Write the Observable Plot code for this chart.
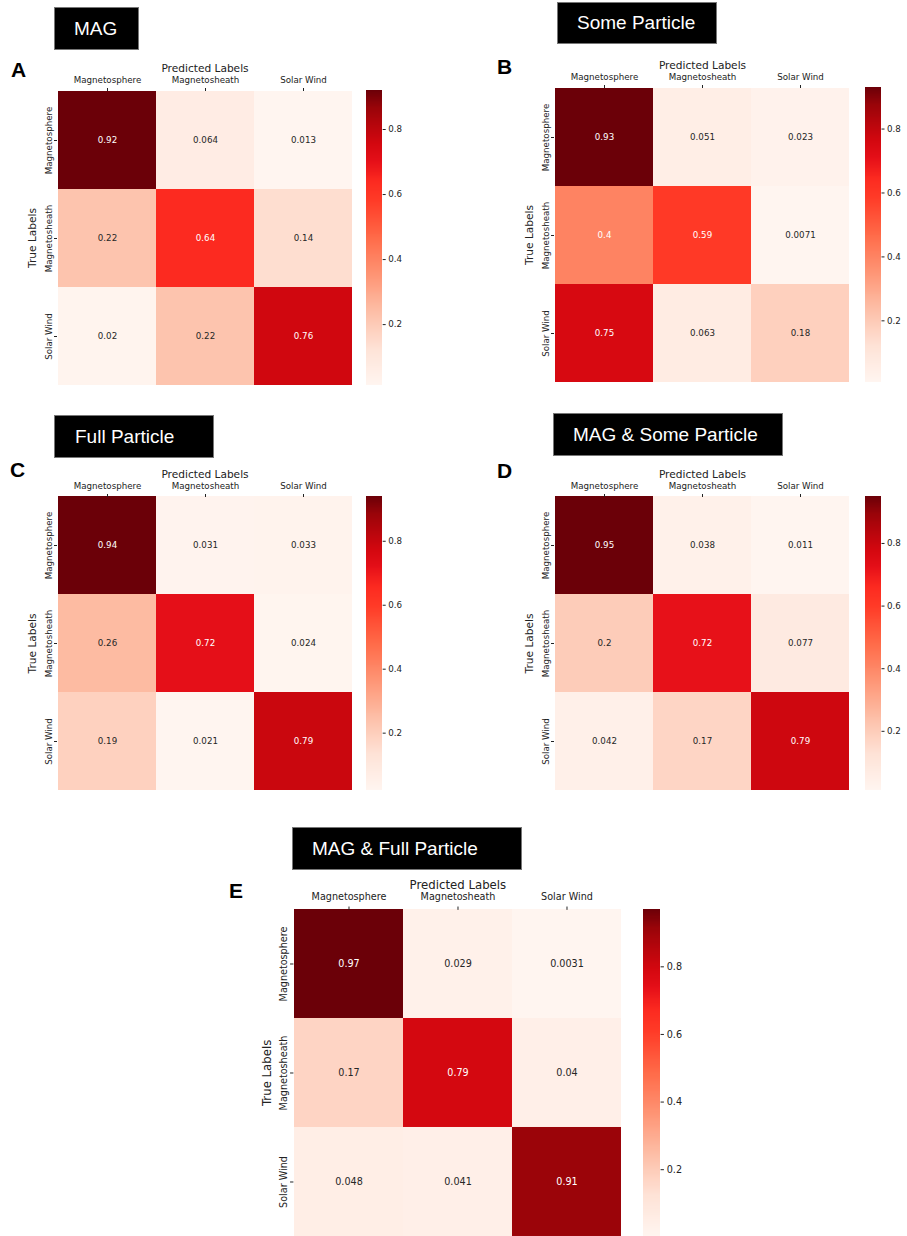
<!DOCTYPE html>
<html><head><meta charset="utf-8">
<script src="https://cdn.jsdelivr.net/npm/d3@7"></script>
<script src="https://cdn.jsdelivr.net/npm/@observablehq/plot@0.6"></script>
<style>
body{margin:0;background:#fff;}
#root{position:relative;width:907px;height:1236px;overflow:hidden;background:#fff;}
.box{position:absolute;background:#000;border:1px solid #777;box-sizing:border-box;color:#fff;font-family:"Liberation Sans",Arial,sans-serif;font-size:19px;display:flex;align-items:center;white-space:nowrap;}
.letter{position:absolute;font-family:"Liberation Sans",Arial,sans-serif;font-weight:bold;font-size:21px;line-height:1;color:#000;}
.plot{position:absolute;}
</style></head><body><div id="root"></div><script>
// ---- data ----
const classes = ["Magnetosphere", "Magnetosheath", "Solar Wind"];
const xLabel = "Predicted Labels";
const yLabel = "True Labels";
const magValues          = [[0.92, 0.064, 0.013], [0.22, 0.64, 0.14], [0.02, 0.22, 0.76]];
const someParticleValues = [[0.93, 0.051, 0.023], [0.4, 0.59, 0.0071], [0.75, 0.063, 0.18]];
const fullParticleValues = [[0.94, 0.031, 0.033], [0.26, 0.72, 0.024], [0.19, 0.021, 0.79]];
const magSomeValues      = [[0.95, 0.038, 0.011], [0.2, 0.72, 0.077], [0.042, 0.17, 0.79]];
const magFullValues      = [[0.97, 0.029, 0.0031], [0.17, 0.79, 0.04], [0.048, 0.041, 0.91]];
const panelTitles  = ["MAG", "Some Particle", "Full Particle", "MAG & Some Particle", "MAG & Full Particle"];
const panelLetters = ["A", "B", "C", "D", "E"];
const panelValues  = [magValues, someParticleValues, fullParticleValues, magSomeValues, magFullValues];
const colorbarTicks = [0.2, 0.4, 0.6, 0.8];

// colour map as seen in the picture (a vivid "Reds")
const cmapStops  = [0, 0.125, 0.25, 0.375, 0.5, 0.625, 0.69, 0.76, 0.82, 0.94, 1];
const cmapColors = ["#fff5f0", "#fee2d6", "#fdbea6", "#fe9474", "#ff6a48", "#ff3b27", "#fc2a20", "#e50f18", "#d2070f", "#9a0409", "#6b0008"];

// ---- layout (page positions) ----
const layout = [
  {box:[54,7,85,43],   pad:20, letter:[11,59],  heat:[56.5,90,295,295],  cbw:15.7, gap:14.5, s:1},
  {box:[557,2,160,42], pad:20, letter:[497,56], heat:[554.3,87,296,295], cbw:15.5, gap:15,   s:1},
  {box:[54,415,160,43],pad:21, letter:[10,459], heat:[56.5,496,295,294], cbw:15.7, gap:14.5, s:1},
  {box:[553,413,230,43],pad:20,letter:[497,460],heat:[554.3,496,296,294],cbw:15.5, gap:15,   s:1},
  {box:[292,827,230,43],pad:20,letter:[229,880],heat:[293.3,909,328,327],cbw:16.6, gap:21.4, s:1.108}
];

const cmapScale = d3.scaleLinear().domain(cmapStops).range(cmapColors).interpolate(d3.interpolateRgb).clamp(true);
const reds = t => cmapScale(t);
function luminance(c) {
  const {r, g, b} = d3.rgb(c);
  const f = v => { v /= 255; return v <= 0.03928 ? v / 12.92 : Math.pow((v + 0.055) / 1.055, 2.4); };
  return 0.2126 * f(r) + 0.7152 * f(g) + 0.0722 * f(b);
}

const root = document.getElementById("root");

layout.forEach((L, k) => {
  const values = panelValues[k];
  const s = L.s;
  // title box
  const box = document.createElement("div");
  box.className = "box";
  Object.assign(box.style, {left: L.box[0]+"px", top: L.box[1]+"px", width: L.box[2]+"px", height: L.box[3]+"px", paddingLeft: (L.pad-1)+"px"});
  box.textContent = panelTitles[k];
  root.appendChild(box);
  // letter
  const let_ = document.createElement("div");
  let_.className = "letter";
  Object.assign(let_.style, {left: L.letter[0]+"px", top: L.letter[1]+"px"});
  let_.textContent = panelLetters[k];
  root.appendChild(let_);

  const data = classes.flatMap((t, i) => classes.map((p, j) => ({truth: t, pred: p, value: values[i][j]})));
  const [lo, hi] = d3.extent(data, d => d.value);
  const colorOpt = {type: "linear", domain: [lo, hi], interpolate: reds};
  const isDark = d => luminance(reds((d.value - lo) / (hi - lo))) <= 0.408;
  const [hx, hy, hw, hh] = L.heat;
  const mT = 45 * s, mL = 50 * s;
  const fs = 8.7 * s, fl = 10.6 * s;

  const heat = Plot.plot({
    width: mL + hw + 2, height: mT + hh + 2,
    marginLeft: mL, marginTop: mT, marginRight: 2, marginBottom: 2,
    style: {fontFamily: "DejaVu Sans", fontSize: fs + "px", background: "transparent", overflow: "visible", color: "#222"},
    x: {domain: classes, padding: 0},
    y: {domain: classes, padding: 0},
    color: colorOpt,
    marks: [
      Plot.cell(data, {x: "pred", y: "truth", fill: "value", inset: 0}),
      Plot.text(data, {x: "pred", y: "truth", text: d => String(d.value), fill: "white", filter: isDark, fontSize: fs}),
      Plot.text(data, {x: "pred", y: "truth", text: d => String(d.value), fill: "#262626", filter: d => !isDark(d), fontSize: fs}),
      Plot.axisX({anchor: "top", tickSize: 3 * s, tickPadding: 5 * s, label: null}),
      Plot.axisY({anchor: "left", tickSize: 3 * s, tickRotate: -90, tickPadding: 3 * s, label: null}),
      Plot.text([xLabel], {text: d => d, frameAnchor: "top", lineAnchor: "middle", textAnchor: "middle", dy: -21.5 * s, fontSize: fl}),
      Plot.text([yLabel], {text: d => d, frameAnchor: "left", lineAnchor: "middle", textAnchor: "middle", dx: -24.5 * s, rotate: -90, fontSize: fl})
    ]
  });
  heat.classList.add("plot");
  Object.assign(heat.style, {left: (hx - mL) + "px", top: (hy - mT) + "px"});
  root.appendChild(heat);

  // colorbar
  const n = 300;
  const strips = d3.range(n).map(i => ({v0: lo + (hi - lo) * i / n, v1: lo + (hi - lo) * (i + 1) / n}));
  const mR = 40 * s;
  const cb = Plot.plot({
    width: L.cbw + mR, height: mT + hh + 2,
    marginLeft: 0, marginRight: mR, marginTop: mT, marginBottom: 2,
    style: {fontFamily: "DejaVu Sans", fontSize: fs + "px", background: "transparent", overflow: "visible", color: "#222"},
    y: {domain: [lo, hi]},
    color: colorOpt,
    marks: [
      Plot.rect(strips, {y1: "v0", y2: "v1", fill: d => (d.v0 + d.v1) / 2, shapeRendering: "crispEdges"}),
      Plot.axisY({anchor: "right", ticks: colorbarTicks, tickSize: 3 * s, tickPadding: 3 * s, tickFormat: d3.format(".1f"), label: null})
    ]
  });
  cb.classList.add("plot");
  Object.assign(cb.style, {left: (hx + hw + L.gap) + "px", top: (hy - mT) + "px"});
  root.appendChild(cb);
});
</script></body></html>
